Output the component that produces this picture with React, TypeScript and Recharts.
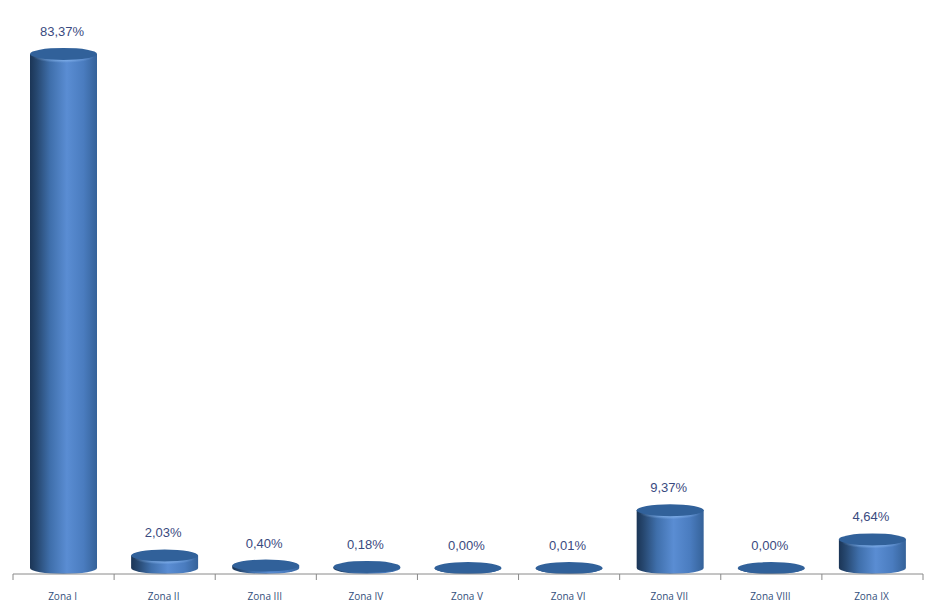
import { Bar, BarChart, LabelList, XAxis, YAxis } from 'recharts';

const zones = ['Zona I', 'Zona II', 'Zona III', 'Zona IV', 'Zona V', 'Zona VI', 'Zona VII', 'Zona VIII', 'Zona IX'];
const shares = [83.37, 2.03, 0.4, 0.18, 0.0, 0.01, 9.37, 0.0, 4.64];

const data = zones.map((zone, i) => ({ zone, share: shares[i] }));

const RY = 6;
const AXIS_COLOR = '#8a8a8a';
const fmt = (v: number) => v.toFixed(2).replace('.', ',') + '%';

// bar drawn as a cylinder, the rectangle given by recharts is the body between the two ellipse centres
function Cylinder(props: any) {
  const { x, y, width, height } = props;
  const rx = width / 2;
  const cx = x + rx;
  return (
    <g>
      <path
        d={`M${x},${y} L${x},${y + height} A${rx},${RY} 0 0 0 ${x + width},${y + height} L${x + width},${y} Z`}
        fill='url(#cylBody)'
      />
      {height >= 8 && <ellipse cx={cx} cy={y + 3} rx={rx - 3} ry={RY} fill='url(#cylGlow)' />}
      <ellipse cx={cx} cy={y} rx={rx} ry={RY} fill='#31619a' />
    </g>
  );
}

// tick marks sit between the categories, so they are drawn with the label, half a band off
function ZoneTick(props: any) {
  const { x, y, width, visibleTicksCount, index, payload } = props;
  const half = width / visibleTicksCount / 2;
  return (
    <g>
      <line x1={x - half} x2={x - half} y1={y} y2={y + 6} stroke={AXIS_COLOR} />
      {index === visibleTicksCount - 1 && (
        <line x1={x + half} x2={x + half} y1={y} y2={y + 6} stroke={AXIS_COLOR} />
      )}
      <text x={x - 1} y={y + 26} textAnchor='middle' fill='#34507c' fontSize={10} fontFamily='Open Sans'>
        {payload.value}
      </text>
    </g>
  );
}

export default function App() {
  return (
    <div style={{ position: 'absolute', left: 0, top: 0, background: '#fff' }}>
      <BarChart
        width={933}
        height={609}
        data={data}
        barCategoryGap={0}
        margin={{ top: 13, right: 10, left: 13, bottom: 0 }}
      >
        <defs>
          <linearGradient id='cylBody' x1='0' y1='0' x2='1' y2='0'>
            <stop offset='0' stopColor='#1b3556' />
            <stop offset='0.1' stopColor='#26476f' />
            <stop offset='0.3' stopColor='#3f6fab' />
            <stop offset='0.55' stopColor='#5a8dd3' />
            <stop offset='0.8' stopColor='#4a7cbf' />
            <stop offset='1' stopColor='#356299' />
          </linearGradient>
          <radialGradient id='cylGlow'>
            <stop offset='0.4' stopColor='#8ab8f0' stopOpacity={0.9} />
            <stop offset='1' stopColor='#8ab8f0' stopOpacity={0} />
          </radialGradient>
        </defs>
        <XAxis
          dataKey='zone'
          height={35}
          stroke={AXIS_COLOR}
          tickLine={false}
          tickSize={0}
          tickMargin={0}
          interval={0}
          tick={ZoneTick}
        />
        <YAxis hide domain={[-0.973, 90]} />
        <Bar dataKey='share' barSize={67} shape={Cylinder} isAnimationActive={false}>
          <LabelList
            dataKey='share'
            position='top'
            offset={18}
            dx={-1.5}
            formatter={fmt}
            fill='#3a4a80'
            fontSize={13}
            fontFamily='Liberation Sans'
          />
        </Bar>
      </BarChart>
    </div>
  );
}
